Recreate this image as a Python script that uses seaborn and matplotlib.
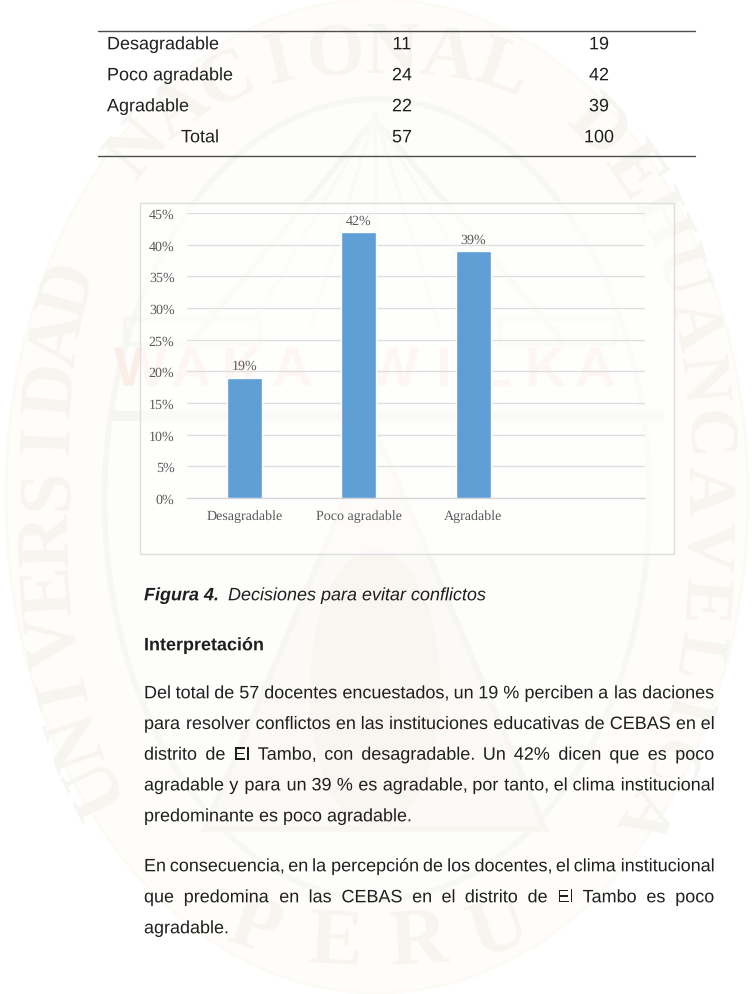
import numpy as np
import matplotlib
matplotlib.use("Agg")
import matplotlib.pyplot as plt
import matplotlib.patheffects as pe
from matplotlib.patches import Rectangle, Ellipse, Polygon
from matplotlib.textpath import TextPath
from matplotlib.font_manager import FontProperties
from matplotlib.ticker import FuncFormatter
import seaborn as sns

categories = ["Desagradable", "Poco agradable", "Agradable", " "]
percent_values = [19, 42, 39, 0]
percent_labels = ["19%", "42%", "39%"]
y_ticks = [0, 5, 10, 15, 20, 25, 30, 35, 40, 45]

table_rows = [
    ("Desagradable", "11", "19"),
    ("Poco agradable", "24", "42"),
    ("Agradable", "22", "39"),
]
table_total = ("Total", "57", "100")

caption_bold = "Figura 4."
caption_rest = "Decisiones para evitar conflictos"
section_title = "Interpretación"
paragraph_one = [
    "Del total de 57 docentes encuestados, un 19 % perciben a las daciones",
    "para resolver conflictos en las instituciones educativas de CEBAS en el",
    "distrito de El Tambo, con desagradable. Un 42% dicen que es poco",
    "agradable y para un 39 % es agradable, por tanto, el clima institucional",
]
paragraph_one_end = "predominante es poco agradable."
paragraph_two = [
    "En consecuencia, en la percepción de los docentes, el clima institucional",
    "que predomina en las CEBAS en el distrito de El Tambo es poco",
]
paragraph_two_end = "agradable."

seal_left = "UNIVERSIDAD"
seal_top = "NACIONAL DE"
seal_right = "HUANCAVELICA"
seal_bottom = "PERU"
seal_band = "WAKA WILKA"

W, H = 752, 995
TEXT_SIZE = 12.95
CHART_SIZE = 9.8
sns.set_theme(style="white")
plt.rcParams["font.family"] = ["Liberation Sans", "DejaVu Sans"]
plt.rcParams["text.hinting"] = "no_hinting"
plt.rcParams["text.hinting_factor"] = 1

fig = plt.figure(figsize=(W / 100, H / 100), dpi=100, facecolor="white")

# Page layer in pixel coordinates, y running downward
page = fig.add_axes([0, 0, 1, 1], zorder=0)
page.set_xlim(0, W)
page.set_ylim(H, 0)
page.axis("off")

# Rounded outline that carries the seal lettering, sampled by arc length
CX, CY, RX, RY, POWER = 377, 500, 328, 445, 0.8
theta = np.radians(np.linspace(-200, 200, 2001))
path_x = CX + RX * np.sign(np.sin(theta)) * np.abs(np.sin(theta)) ** POWER
path_y = CY - RY * np.sign(np.cos(theta)) * np.abs(np.cos(theta)) ** POWER
path_s = np.concatenate([[0], np.cumsum(np.hypot(np.diff(path_x), np.diff(path_y)))])


def arc_text(text, start, end, size, color, flip=False):
    """Letters spaced evenly along the outline between two angles, in degrees from the top."""
    s0, s1 = np.interp(np.radians([start, end]), theta, path_s)
    for ch, s in zip(text, np.linspace(s0, s1, len(text))):
        x = np.interp(s, path_s, path_x)
        y = np.interp(s, path_s, path_y)
        dx = np.interp(s + 2, path_s, path_x) - np.interp(s - 2, path_s, path_x)
        dy = np.interp(s + 2, path_s, path_y) - np.interp(s - 2, path_s, path_y)
        angle = np.degrees(np.arctan2(-dy, dx))
        if flip:
            angle += 180
        page.text(x, y, ch, fontsize=size, fontweight="bold", family="Liberation Serif",
                  color=color, rotation=angle, rotation_mode="anchor",
                  ha="center", va="center", zorder=1)


# Faded university seal behind the page
page.add_patch(Ellipse((377, 497), 742, 994, fc="#fefdfa", ec="#fbfaf5", lw=2, zorder=0.5))
page.add_patch(Ellipse((377, 500), 545, 800, fc="#fdfdfb", ec="#f7f7f3", lw=4, zorder=0.6))
seal_letter = "#f6f5f0"
arc_text(seal_left, -125, -67, 54, seal_letter)
arc_text(seal_top, -42, 47, 54, seal_letter)
arc_text(seal_right, 56, 130, 50, seal_letter)
arc_text(seal_bottom, 197, 163, 58, seal_letter, flip=True)

# Inner scene: roof, rays, banner and the central figure
scene = "#f7f7f2"
page.plot([190, 375, 565], [345, 120, 345], color=scene, lw=4, zorder=0.8)
for x_end in (250, 310, 375, 440, 500):
    page.plot([375, x_end], [115, 330], color="#f9f9f5", lw=2.5, zorder=0.8)
page.add_patch(Rectangle((125, 320), 135, 25, fill=False, ec=scene, lw=3, zorder=0.8))
page.add_patch(Rectangle((500, 320), 115, 25, fill=False, ec=scene, lw=3, zorder=0.8))
page.add_patch(Rectangle((110, 412), 555, 10, fc="#f7f5ef", ec="none", zorder=0.8))
page.add_patch(Polygon([[375, 430], [205, 830], [545, 830]], closed=True, fc="#fcfaf6",
                       ec="#f8f6f0", lw=4, zorder=0.8))
page.add_patch(Ellipse((375, 690), 130, 280, fc="#f9f6f1", ec="none", zorder=0.9))
for ch, x in zip(seal_band, np.linspace(140, 595, len(seal_band))):
    page.text(x, 372, ch, fontsize=40, fontweight="bold", color="#fbeee9",
              ha="center", va="center", zorder=1)

ink = "#1f1f1f"
BASELINE = 6.3


def body_text(x, y, s, **kw):
    """Page text on a common baseline, y being the middle of the line; drawn as outlines
    so that every word keeps its exact position."""
    page.text(x, y + BASELINE, s, color=ink, va="baseline", zorder=3,
              path_effects=[pe.Normal()], **{"fontsize": TEXT_SIZE, **kw})


# Table rules and cells
for y in (32, 157):
    page.plot([98, 695], [y, y], color="#4d4d4d", lw=1.0, zorder=2)
row_names = [r[0] for r in table_rows] + [table_total[0]]
row_counts = [r[1] for r in table_rows] + [table_total[1]]
row_shares = [r[2] for r in table_rows] + [table_total[2]]
for i, (name, n, pct) in enumerate(zip(row_names, row_counts, row_shares)):
    y = 44 + 31 * i
    body_text(181 if name == table_total[0] else 107, y, name)
    body_text(402, y, n, ha="center")
    body_text(599, y, pct, ha="center")

# Chart frame
page.add_patch(Rectangle((140, 204), 534, 351, facecolor="white", alpha=0.5,
                         edgecolor="none", zorder=2))
page.add_patch(Rectangle((140, 204), 534, 351, fill=False, edgecolor="#dedede",
                         lw=1.0, zorder=2))

# Bar chart
ax = fig.add_axes([187 / W, 1 - 499 / H, (645 - 187) / W, (499 - 214) / H], zorder=2)
ax.patch.set_alpha(0)
sns.barplot(x=categories, y=percent_values, order=categories, color="#5b9bd5",
            width=0.31, saturation=1, alpha=0.97, ax=ax, zorder=3)
ax.set_ylim(0, 45)
ax.set_yticks(y_ticks)
ax.yaxis.set_major_formatter(FuncFormatter(lambda v, _: f"{v:.0f}%"))
ax.grid(axis="y", color="#dedede", lw=0.9, zorder=1)
ax.set_axisbelow(True)
for side in ("top", "left", "right"):
    ax.spines[side].set_visible(False)
ax.spines["bottom"].set_color("#d4d4d4")
ax.spines["bottom"].set_linewidth(0.9)
ax.tick_params(axis="both", length=0, colors="#595959", labelsize=CHART_SIZE)
ax.tick_params(axis="x", pad=8)
ax.tick_params(axis="y", pad=9)
for lab in ax.get_xticklabels() + ax.get_yticklabels():
    lab.set_fontfamily("Liberation Serif")
for bar, text in zip(ax.patches, percent_labels):
    ax.annotate(text, (bar.get_x() + bar.get_width() / 2, bar.get_height()),
                xytext=(0, 4), textcoords="offset points", ha="center", va="bottom",
                fontsize=CHART_SIZE, family="Liberation Serif", color="#595959")

# Caption and body text
body_font = FontProperties(family="Liberation Sans")


def text_width(s):
    """Advance of a word in pixels at the body size."""
    extent = TextPath((0, 0), s, size=TEXT_SIZE * 100 / 72, prop=body_font).get_extents()
    return extent.x1


def justified(line, y, left=144, right=713.5):
    words = line.split()
    widths = [text_width(w) for w in words]
    gap = (right - left - sum(widths)) / (len(words) - 1)
    x = left
    for word, w in zip(words, widths):
        body_text(x, y, word)
        x += w + gap


body_text(144, 595, caption_bold, fontweight="bold", fontstyle="italic")
body_text(228, 595, caption_rest, fontstyle="italic")
body_text(144, 645, section_title, fontweight="bold")
for i, line in enumerate(paragraph_one):
    justified(line, 693 + 30.7 * i)
body_text(144, 816, paragraph_one_end)
for i, line in enumerate(paragraph_two):
    justified(line, 866 + 31 * i)
body_text(144, 928, paragraph_two_end)

fig.savefig("out.png", dpi=100, facecolor=fig.get_facecolor())
